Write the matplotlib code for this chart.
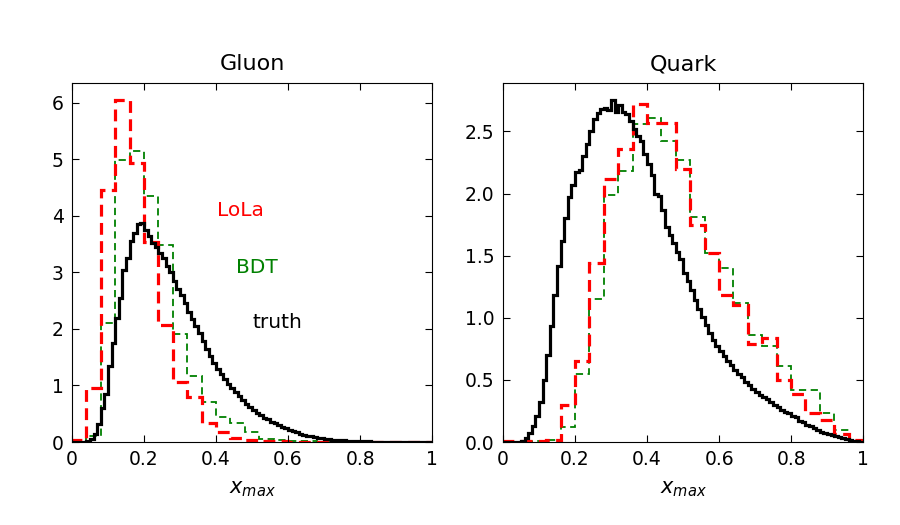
import numpy as np
import matplotlib
matplotlib.use("Agg")
import matplotlib.pyplot as plt

# ---------------- data ----------------
fine_edges = np.linspace(0, 1, 101)
coarse_edges = np.linspace(0, 1, 26)

gluon_truth = [
    0, 0, 0, 0, 0.02, 0.05, 0.15, 0.32, 0.60, 0.85,
    1.35, 1.75, 2.20, 2.55, 3.05, 3.25, 3.55, 3.70, 3.85, 3.88,
    3.75, 3.65, 3.52, 3.45, 3.35, 3.25, 3.12, 3.00, 2.85, 2.70,
    2.60, 2.45, 2.30, 2.18, 2.05, 1.92, 1.78, 1.65, 1.52, 1.40,
    1.30, 1.20, 1.12, 1.03, 0.95, 0.88, 0.81, 0.75, 0.68, 0.62,
    0.57, 0.52, 0.48, 0.43, 0.40, 0.36, 0.33, 0.30, 0.26, 0.24,
    0.21, 0.20, 0.17, 0.15, 0.13, 0.11, 0.10, 0.09, 0.08, 0.07,
    0.06, 0.05, 0.045, 0.04, 0.035, 0.03, 0.025, 0.02, 0.02, 0.015,
    0.012, 0.011, 0.01, 0.009, 0.008, 0.007, 0.006, 0.005, 0.004, 0.004,
    0.003, 0.003, 0.002, 0.002, 0.001, 0.001, 0.001, 0, 0, 0,
]
gluon_lola = [0.03, 0.95, 4.46, 6.05, 4.93, 3.54, 2.07, 1.07, 0.80, 0.33,
              0.17, 0.08, 0.03, 0.02, 0.01, 0.005, 0.003, 0, 0, 0,
              0, 0, 0, 0, 0]
gluon_bdt = [0.0, 0.10, 2.10, 4.99, 5.15, 4.35, 3.48, 1.91, 1.16, 0.70,
             0.45, 0.34, 0.18, 0.05, 0.03, 0.02, 0.01, 0.005, 0, 0,
             0, 0, 0, 0, 0]

quark_truth = [
    0, 0, 0, 0, 0, 0.01, 0.03, 0.07, 0.13, 0.21,
    0.32, 0.50, 0.70, 0.93, 1.18, 1.42, 1.62, 1.80, 1.97, 2.07,
    2.17, 2.19, 2.30, 2.40, 2.50, 2.60, 2.65, 2.68, 2.69, 2.67,
    2.75, 2.66, 2.71, 2.66, 2.64, 2.58, 2.52, 2.46, 2.42, 2.32,
    2.24, 2.15, 2.00, 1.98, 1.87, 1.73, 1.67, 1.60, 1.53, 1.47,
    1.36, 1.30, 1.22, 1.14, 1.07, 1.01, 0.94, 0.88, 0.82, 0.77,
    0.73, 0.69, 0.65, 0.62, 0.58, 0.55, 0.52, 0.48, 0.46, 0.43,
    0.40, 0.38, 0.36, 0.35, 0.32, 0.30, 0.28, 0.26, 0.24, 0.23,
    0.21, 0.20, 0.17, 0.16, 0.14, 0.13, 0.11, 0.10, 0.08, 0.075,
    0.065, 0.055, 0.05, 0.04, 0.03, 0.025, 0.02, 0.012, 0.008, 0.004,
]
quark_lola = [0.005, 0.005, 0.005, 0.02, 0.30, 0.65, 1.44, 2.12, 2.36, 2.72,
              2.57, 2.57, 2.20, 1.75, 1.52, 1.18, 1.10, 0.79, 0.84, 0.50,
              0.39, 0.23, 0.18, 0.065, 0.015]
quark_bdt = [0.0, 0.0, 0.005, 0.015, 0.12, 0.55, 1.15, 1.99, 2.18, 2.56,
             2.61, 2.42, 2.27, 1.81, 1.52, 1.40, 1.12, 0.86, 0.77, 0.61,
             0.42, 0.42, 0.23, 0.10, 0.01]

titles = ["Gluon", "Quark"]
x_ticks = [0, 0.2, 0.4, 0.6, 0.8, 1.0]
x_ticklabels = ["0", "0.2", "0.4", "0.6", "0.8", "1"]

# ---------------- plot ----------------
plt.rcParams["font.family"] = ["DejaVu Sans"]
fig, axes = plt.subplots(1, 2, figsize=(9, 5.25), dpi=100)
fig.subplots_adjust(left=0.08, right=0.959, bottom=0.158, top=0.842, wspace=0.197)

panels = [
    (gluon_truth, gluon_lola, gluon_bdt, 6.35),
    (quark_truth, quark_lola, quark_bdt, 2.89),
]

for ax, title, (truth, lola, bdt, ytop) in zip(axes, titles, panels):
    ax.stairs(bdt, coarse_edges, color="green", lw=1.3, ls=(0, (4, 2.5)))
    ax.stairs(lola, coarse_edges, color="red", lw=2.3, ls=(0, (3.7, 2.0)))
    ax.stairs(truth, fine_edges, color="black", lw=2.3)
    ax.set_xlim(0, 1)
    ax.set_ylim(0, ytop)
    ax.set_xticks(x_ticks)
    ax.set_xticklabels(x_ticklabels)
    ax.tick_params(direction="in", top=True, right=True, labelsize=13.5,
                   length=5, pad=6)
    ax.set_title(title, fontsize=16, pad=9)
    ax.set_xlabel(r"$x_{max}$", fontsize=15, labelpad=7)

axes[0].set_yticks([0, 1, 2, 3, 4, 5, 6])
axes[1].set_yticks([0, 0.5, 1.0, 1.5, 2.0, 2.5])
axes[1].set_yticklabels(["0.0", "0.5", "1.0", "1.5", "2.0", "2.5"])

axes[0].text(0.467, 4.1, "LoLa", color="red", fontsize=14.5, ha="center", va="center")
axes[0].text(0.514, 3.09, "BDT", color="green", fontsize=14.5, ha="center", va="center")
axes[0].text(0.57, 2.12, "truth", color="black", fontsize=14.5, ha="center", va="center")

fig.savefig("out.png", dpi=100)
